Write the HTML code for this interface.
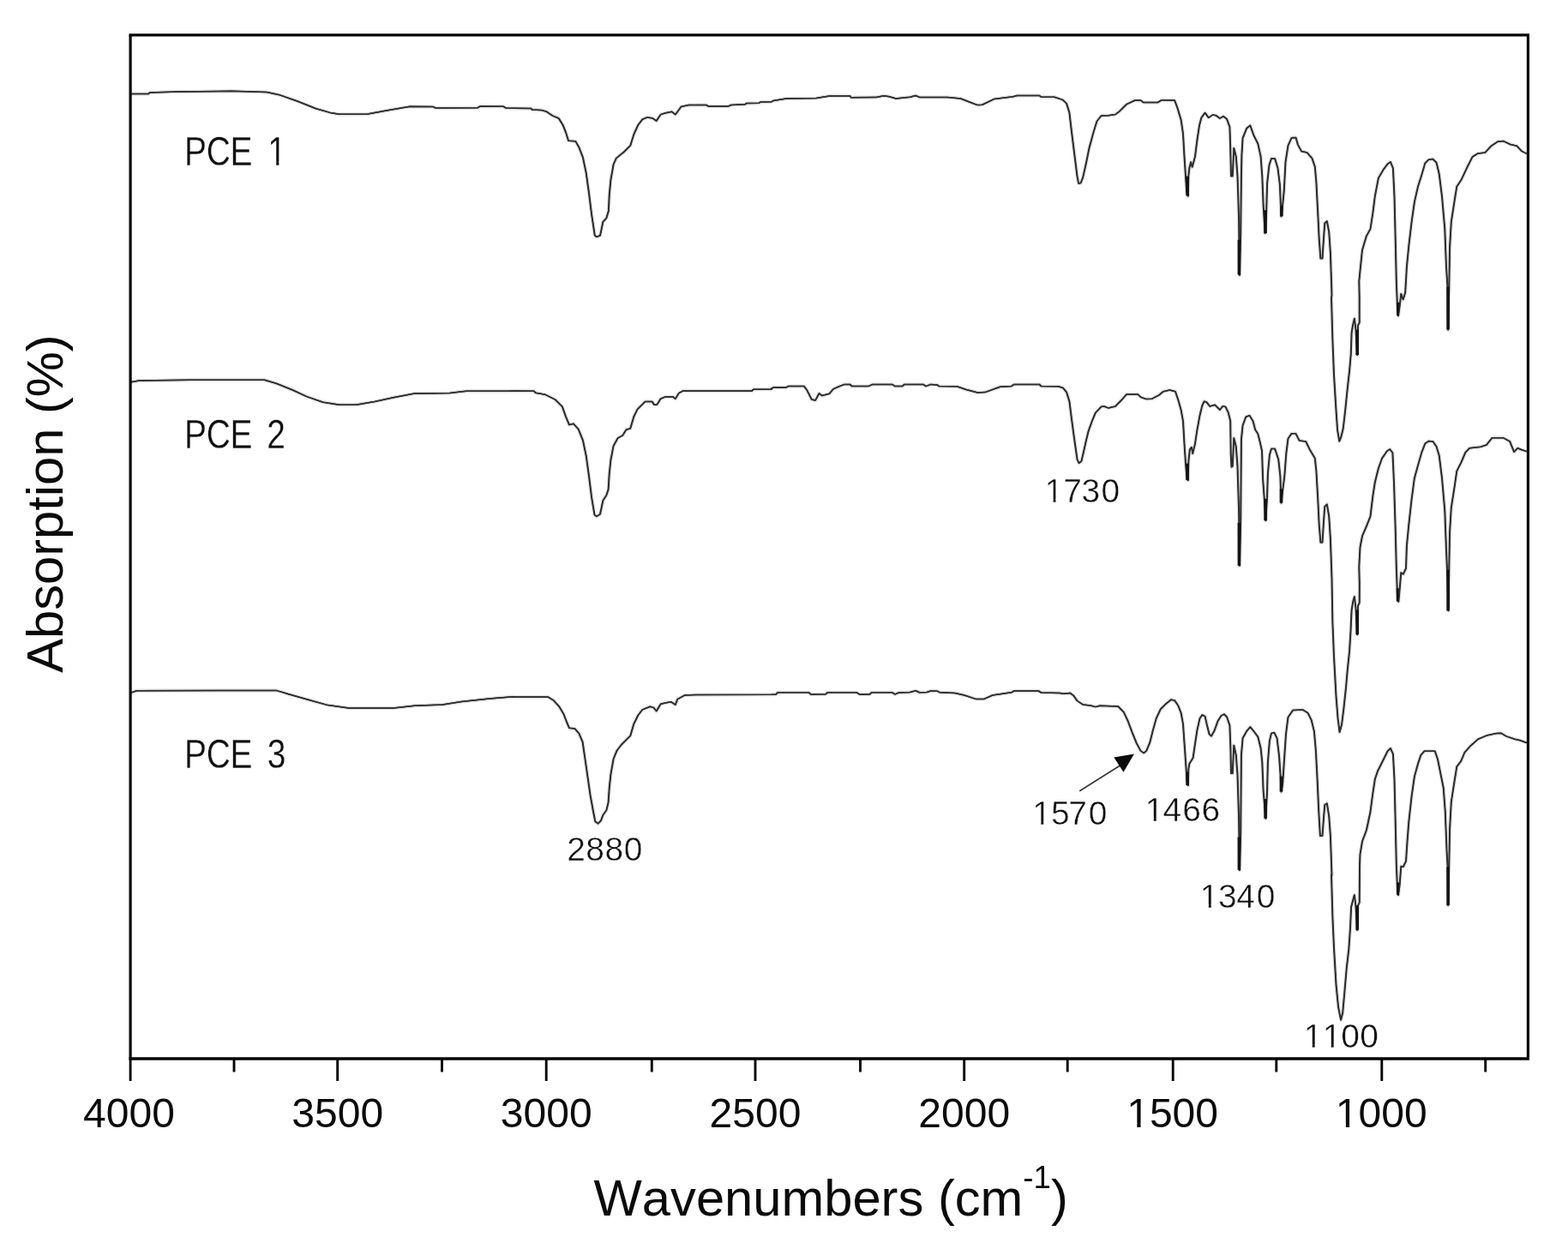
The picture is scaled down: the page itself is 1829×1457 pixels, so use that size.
<!DOCTYPE html>
<html lang="en"><head><meta charset="utf-8"><title>FTIR spectra</title>
<style>
html,body{margin:0;padding:0;background:#ffffff;}
body{width:1829px;height:1457px;overflow:hidden;}
svg{display:block;}
.ax{font-family:"Liberation Sans","DejaVu Sans",sans-serif;fill:#0a0a0a;}
.an{font-family:"Liberation Sans", "DejaVu Sans", sans-serif;fill:#101010;stroke:#ffffff;stroke-width:0.45px;stroke-linejoin:round;}
.pc{font-family:"Liberation Sans", "DejaVu Sans", sans-serif;fill:#101010;stroke:#ffffff;stroke-width:0.25px;stroke-linejoin:round;}
.hl{fill:none;stroke:#000000;stroke-opacity:0.12;stroke-width:4.4;stroke-linejoin:round;stroke-linecap:round;}
.cv{fill:none;stroke:#2c2c2c;stroke-width:1.5;stroke-linejoin:round;stroke-linecap:round;}
</style></head><body>
<svg width="1829" height="1457" viewBox="0 0 1829 1457">
<rect x="0" y="0" width="1829" height="1457" fill="#ffffff"/>
<g id="spectra" transform="translate(0,0.3)">
<polyline class="hl" points="152.7,109.3 173.2,109.3 174.6,107.6 207.4,106.8 270.3,106.0 311.3,107.3 325.0,110.1 346.8,117.7 368.7,126.5 385.1,131.1 396.0,133.0 428.8,132.8 450.7,128.7 478.0,124.0 505.4,124.3 508.1,125.7 557.3,125.4 560.1,123.7 587.4,124.0 590.1,125.7 600.0,125.9 619.7,126.3 620.5,127.7 631.2,128.1 637.7,130.0 644.3,134.6 651.7,137.7 656.6,145.6 659.9,153.8 663.1,164.0 671.4,164.5 675.5,171.9 679.9,183.3 683.7,201.4 686.9,224.3 690.2,250.6 693.8,274.4 696.0,276.0 700.1,274.4 703.3,258.8 707.4,253.9 709.9,245.7 710.7,227.6 712.4,209.6 715.6,191.5 718.9,184.2 727.9,176.8 735.3,169.4 739.4,156.3 744.3,145.6 749.3,139.0 755.0,136.6 760.7,137.4 765.7,140.7 770.6,133.3 775.5,131.7 783.7,130.0 787.8,133.3 794.4,124.3 803.4,122.3 823.9,122.2 826.4,123.8 849.3,123.8 852.6,122.2 869.0,121.5 870.6,120.2 885.4,119.9 887.0,118.7 900.0,118.4 901.9,117.3 917.2,114.7 952.2,114.2 967.5,111.6 991.5,111.6 992.6,113.4 1022.2,113.1 1030.9,111.4 1037.5,112.5 1045.1,114.7 1061.5,112.9 1068.1,111.2 1072.5,113.1 1105.3,113.1 1120.6,114.7 1131.5,119.0 1140.3,122.3 1145.7,121.9 1159.9,115.1 1181.8,112.5 1186.2,111.2 1212.4,111.2 1214.6,112.9 1229.9,112.9 1238.7,115.8 1240.0,116.4 1244.1,120.5 1247.4,131.2 1249.9,152.6 1253.2,179.0 1256.5,205.3 1258.1,213.6 1260.6,213.2 1263.1,207.0 1267.2,188.8 1270.5,172.4 1275.4,154.3 1279.5,141.1 1284.5,134.8 1292.7,134.5 1301.0,133.2 1305.9,129.5 1314.1,121.3 1324.0,116.7 1330.6,116.7 1333.9,119.3 1350.4,119.2 1355.3,116.4 1370.1,116.7 1373.4,125.4 1377.6,139.4 1380.0,155.9 1381.4,180.6 1383.0,205.3 1384.2,223.4 1385.8,228.4 1386.3,205.3 1387.4,195.4 1389.1,188.8 1390.7,194.6 1394.0,182.3 1396.5,162.5 1399.0,146.0 1401.4,137.0 1405.6,131.2 1409.7,137.0 1414.6,133.7 1418.7,134.5 1422.9,137.8 1427.0,135.3 1431.1,138.6 1434.4,147.7 1435.2,172.4 1436.0,205.3 1437.7,205.3 1439.3,172.4 1441.8,182.3 1443.5,205.3 1445.1,254.7 1445.9,320.6 1447.2,271.2 1447.9,205.3 1448.4,180.6 1449.6,160.8 1454.2,149.3 1458.3,146.0 1462.4,157.5 1467.3,167.4 1470.6,182.3 1472.3,205.3 1473.6,238.3 1475.6,272.0 1477.2,246.5 1478.1,213.6 1480.5,192.1 1483.0,184.7 1487.1,184.7 1490.4,195.4 1492.9,215.2 1494.5,252.3 1496.2,238.3 1497.8,221.8 1499.5,188.8 1502.5,169.5 1506.6,160.5 1511.5,160.1 1514.0,168.7 1518.1,176.1 1524.7,177.8 1530.5,184.4 1533.8,194.3 1535.4,212.4 1537.1,245.3 1538.7,278.3 1540.4,301.3 1542.5,301.3 1544.2,275.0 1545.3,260.1 1547.8,257.7 1550.2,270.0 1551.9,294.7 1553.5,344.2 1553.0,346.5 1554.4,395.9 1556.0,437.1 1558.5,478.3 1560.1,501.3 1562.3,514.5 1564.3,509.6 1566.7,499.7 1569.2,478.3 1571.7,453.6 1574.1,432.1 1575.8,412.4 1576.6,387.7 1578.3,377.8 1579.9,371.2 1581.5,384.4 1583.2,414.0 1584.0,379.4 1585.7,376.1 1585.7,346.5 1585.3,327.7 1587.3,307.9 1589.0,291.4 1593.9,275.0 1598.5,266.7 1601.3,248.6 1603.8,228.8 1607.9,207.4 1613.7,197.5 1618.6,191.0 1621.9,188.5 1624.9,195.9 1626.5,228.8 1627.7,278.3 1628.8,327.7 1630.1,360.6 1631.0,368.1 1632.6,357.3 1634.3,342.5 1636.7,349.1 1639.2,340.9 1640.9,311.2 1643.3,286.5 1646.6,258.5 1649.9,235.4 1654.0,217.3 1658.2,204.1 1662.3,190.1 1666.4,186.0 1671.3,185.2 1675.5,189.3 1678.7,202.5 1682.0,228.8 1685.3,266.7 1687.0,311.2 1688.6,335.9 1689.1,384.4 1690.3,334.3 1691.1,288.2 1692.8,258.5 1696.9,232.1 1699.3,217.3 1704.3,209.9 1710.9,195.9 1717.5,182.7 1724.1,178.6 1732.3,177.8 1738.9,170.4 1747.1,164.9 1753.7,164.3 1761.9,168.2 1769.4,170.0 1775.1,176.1 1780.1,178.6"/>
<polyline class="cv" transform="translate(-0.25,0)" points="152.7,109.3 173.2,109.3 174.6,107.6 207.4,106.8 270.3,106.0 311.3,107.3 325.0,110.1 346.8,117.7 368.7,126.5 385.1,131.1 396.0,133.0 428.8,132.8 450.7,128.7 478.0,124.0 505.4,124.3 508.1,125.7 557.3,125.4 560.1,123.7 587.4,124.0 590.1,125.7 600.0,125.9 619.7,126.3 620.5,127.7 631.2,128.1 637.7,130.0 644.3,134.6 651.7,137.7 656.6,145.6 659.9,153.8 663.1,164.0 671.4,164.5 675.5,171.9 679.9,183.3 683.7,201.4 686.9,224.3 690.2,250.6 693.8,274.4 696.0,276.0 700.1,274.4 703.3,258.8 707.4,253.9 709.9,245.7 710.7,227.6 712.4,209.6 715.6,191.5 718.9,184.2 727.9,176.8 735.3,169.4 739.4,156.3 744.3,145.6 749.3,139.0 755.0,136.6 760.7,137.4 765.7,140.7 770.6,133.3 775.5,131.7 783.7,130.0 787.8,133.3 794.4,124.3 803.4,122.3 823.9,122.2 826.4,123.8 849.3,123.8 852.6,122.2 869.0,121.5 870.6,120.2 885.4,119.9 887.0,118.7 900.0,118.4 901.9,117.3 917.2,114.7 952.2,114.2 967.5,111.6 991.5,111.6 992.6,113.4 1022.2,113.1 1030.9,111.4 1037.5,112.5 1045.1,114.7 1061.5,112.9 1068.1,111.2 1072.5,113.1 1105.3,113.1 1120.6,114.7 1131.5,119.0 1140.3,122.3 1145.7,121.9 1159.9,115.1 1181.8,112.5 1186.2,111.2 1212.4,111.2 1214.6,112.9 1229.9,112.9 1238.7,115.8 1240.0,116.4 1244.1,120.5 1247.4,131.2 1249.9,152.6 1253.2,179.0 1256.5,205.3 1258.1,213.6 1260.6,213.2 1263.1,207.0 1267.2,188.8 1270.5,172.4 1275.4,154.3 1279.5,141.1 1284.5,134.8 1292.7,134.5 1301.0,133.2 1305.9,129.5 1314.1,121.3 1324.0,116.7 1330.6,116.7 1333.9,119.3 1350.4,119.2 1355.3,116.4 1370.1,116.7 1373.4,125.4 1377.6,139.4 1380.0,155.9 1381.4,180.6 1383.0,205.3 1384.2,223.4 1385.8,228.4 1386.3,205.3 1387.4,195.4 1389.1,188.8 1390.7,194.6 1394.0,182.3 1396.5,162.5 1399.0,146.0 1401.4,137.0 1405.6,131.2 1409.7,137.0 1414.6,133.7 1418.7,134.5 1422.9,137.8 1427.0,135.3 1431.1,138.6 1434.4,147.7 1435.2,172.4 1436.0,205.3 1437.7,205.3 1439.3,172.4 1441.8,182.3 1443.5,205.3 1445.1,254.7 1445.9,320.6 1447.2,271.2 1447.9,205.3 1448.4,180.6 1449.6,160.8 1454.2,149.3 1458.3,146.0 1462.4,157.5 1467.3,167.4 1470.6,182.3 1472.3,205.3 1473.6,238.3 1475.6,272.0 1477.2,246.5 1478.1,213.6 1480.5,192.1 1483.0,184.7 1487.1,184.7 1490.4,195.4 1492.9,215.2 1494.5,252.3 1496.2,238.3 1497.8,221.8 1499.5,188.8 1502.5,169.5 1506.6,160.5 1511.5,160.1 1514.0,168.7 1518.1,176.1 1524.7,177.8 1530.5,184.4 1533.8,194.3 1535.4,212.4 1537.1,245.3 1538.7,278.3 1540.4,301.3 1542.5,301.3 1544.2,275.0 1545.3,260.1 1547.8,257.7 1550.2,270.0 1551.9,294.7 1553.5,344.2 1553.0,346.5 1554.4,395.9 1556.0,437.1 1558.5,478.3 1560.1,501.3 1562.3,514.5 1564.3,509.6 1566.7,499.7 1569.2,478.3 1571.7,453.6 1574.1,432.1 1575.8,412.4 1576.6,387.7 1578.3,377.8 1579.9,371.2 1581.5,384.4 1583.2,414.0 1584.0,379.4 1585.7,376.1 1585.7,346.5 1585.3,327.7 1587.3,307.9 1589.0,291.4 1593.9,275.0 1598.5,266.7 1601.3,248.6 1603.8,228.8 1607.9,207.4 1613.7,197.5 1618.6,191.0 1621.9,188.5 1624.9,195.9 1626.5,228.8 1627.7,278.3 1628.8,327.7 1630.1,360.6 1631.0,368.1 1632.6,357.3 1634.3,342.5 1636.7,349.1 1639.2,340.9 1640.9,311.2 1643.3,286.5 1646.6,258.5 1649.9,235.4 1654.0,217.3 1658.2,204.1 1662.3,190.1 1666.4,186.0 1671.3,185.2 1675.5,189.3 1678.7,202.5 1682.0,228.8 1685.3,266.7 1687.0,311.2 1688.6,335.9 1689.1,384.4 1690.3,334.3 1691.1,288.2 1692.8,258.5 1696.9,232.1 1699.3,217.3 1704.3,209.9 1710.9,195.9 1717.5,182.7 1724.1,178.6 1732.3,177.8 1738.9,170.4 1747.1,164.9 1753.7,164.3 1761.9,168.2 1769.4,170.0 1775.1,176.1 1780.1,178.6"/>
<polyline class="cv" transform="translate(0.25,0)" points="152.7,109.3 173.2,109.3 174.6,107.6 207.4,106.8 270.3,106.0 311.3,107.3 325.0,110.1 346.8,117.7 368.7,126.5 385.1,131.1 396.0,133.0 428.8,132.8 450.7,128.7 478.0,124.0 505.4,124.3 508.1,125.7 557.3,125.4 560.1,123.7 587.4,124.0 590.1,125.7 600.0,125.9 619.7,126.3 620.5,127.7 631.2,128.1 637.7,130.0 644.3,134.6 651.7,137.7 656.6,145.6 659.9,153.8 663.1,164.0 671.4,164.5 675.5,171.9 679.9,183.3 683.7,201.4 686.9,224.3 690.2,250.6 693.8,274.4 696.0,276.0 700.1,274.4 703.3,258.8 707.4,253.9 709.9,245.7 710.7,227.6 712.4,209.6 715.6,191.5 718.9,184.2 727.9,176.8 735.3,169.4 739.4,156.3 744.3,145.6 749.3,139.0 755.0,136.6 760.7,137.4 765.7,140.7 770.6,133.3 775.5,131.7 783.7,130.0 787.8,133.3 794.4,124.3 803.4,122.3 823.9,122.2 826.4,123.8 849.3,123.8 852.6,122.2 869.0,121.5 870.6,120.2 885.4,119.9 887.0,118.7 900.0,118.4 901.9,117.3 917.2,114.7 952.2,114.2 967.5,111.6 991.5,111.6 992.6,113.4 1022.2,113.1 1030.9,111.4 1037.5,112.5 1045.1,114.7 1061.5,112.9 1068.1,111.2 1072.5,113.1 1105.3,113.1 1120.6,114.7 1131.5,119.0 1140.3,122.3 1145.7,121.9 1159.9,115.1 1181.8,112.5 1186.2,111.2 1212.4,111.2 1214.6,112.9 1229.9,112.9 1238.7,115.8 1240.0,116.4 1244.1,120.5 1247.4,131.2 1249.9,152.6 1253.2,179.0 1256.5,205.3 1258.1,213.6 1260.6,213.2 1263.1,207.0 1267.2,188.8 1270.5,172.4 1275.4,154.3 1279.5,141.1 1284.5,134.8 1292.7,134.5 1301.0,133.2 1305.9,129.5 1314.1,121.3 1324.0,116.7 1330.6,116.7 1333.9,119.3 1350.4,119.2 1355.3,116.4 1370.1,116.7 1373.4,125.4 1377.6,139.4 1380.0,155.9 1381.4,180.6 1383.0,205.3 1384.2,223.4 1385.8,228.4 1386.3,205.3 1387.4,195.4 1389.1,188.8 1390.7,194.6 1394.0,182.3 1396.5,162.5 1399.0,146.0 1401.4,137.0 1405.6,131.2 1409.7,137.0 1414.6,133.7 1418.7,134.5 1422.9,137.8 1427.0,135.3 1431.1,138.6 1434.4,147.7 1435.2,172.4 1436.0,205.3 1437.7,205.3 1439.3,172.4 1441.8,182.3 1443.5,205.3 1445.1,254.7 1445.9,320.6 1447.2,271.2 1447.9,205.3 1448.4,180.6 1449.6,160.8 1454.2,149.3 1458.3,146.0 1462.4,157.5 1467.3,167.4 1470.6,182.3 1472.3,205.3 1473.6,238.3 1475.6,272.0 1477.2,246.5 1478.1,213.6 1480.5,192.1 1483.0,184.7 1487.1,184.7 1490.4,195.4 1492.9,215.2 1494.5,252.3 1496.2,238.3 1497.8,221.8 1499.5,188.8 1502.5,169.5 1506.6,160.5 1511.5,160.1 1514.0,168.7 1518.1,176.1 1524.7,177.8 1530.5,184.4 1533.8,194.3 1535.4,212.4 1537.1,245.3 1538.7,278.3 1540.4,301.3 1542.5,301.3 1544.2,275.0 1545.3,260.1 1547.8,257.7 1550.2,270.0 1551.9,294.7 1553.5,344.2 1553.0,346.5 1554.4,395.9 1556.0,437.1 1558.5,478.3 1560.1,501.3 1562.3,514.5 1564.3,509.6 1566.7,499.7 1569.2,478.3 1571.7,453.6 1574.1,432.1 1575.8,412.4 1576.6,387.7 1578.3,377.8 1579.9,371.2 1581.5,384.4 1583.2,414.0 1584.0,379.4 1585.7,376.1 1585.7,346.5 1585.3,327.7 1587.3,307.9 1589.0,291.4 1593.9,275.0 1598.5,266.7 1601.3,248.6 1603.8,228.8 1607.9,207.4 1613.7,197.5 1618.6,191.0 1621.9,188.5 1624.9,195.9 1626.5,228.8 1627.7,278.3 1628.8,327.7 1630.1,360.6 1631.0,368.1 1632.6,357.3 1634.3,342.5 1636.7,349.1 1639.2,340.9 1640.9,311.2 1643.3,286.5 1646.6,258.5 1649.9,235.4 1654.0,217.3 1658.2,204.1 1662.3,190.1 1666.4,186.0 1671.3,185.2 1675.5,189.3 1678.7,202.5 1682.0,228.8 1685.3,266.7 1687.0,311.2 1688.6,335.9 1689.1,384.4 1690.3,334.3 1691.1,288.2 1692.8,258.5 1696.9,232.1 1699.3,217.3 1704.3,209.9 1710.9,195.9 1717.5,182.7 1724.1,178.6 1732.3,177.8 1738.9,170.4 1747.1,164.9 1753.7,164.3 1761.9,168.2 1769.4,170.0 1775.1,176.1 1780.1,178.6"/>
<polyline class="hl" points="152.7,445.4 162.3,443.7 221.1,442.9 308.6,442.9 322.2,447.0 341.4,454.7 357.8,462.3 376.9,468.9 396.0,471.9 415.2,471.9 437.0,468.3 458.9,463.4 483.5,458.8 524.5,458.2 543.7,456.0 592.9,456.0 600.0,455.6 623.0,455.9 624.6,457.9 636.1,460.0 647.6,465.8 655.8,474.0 659.9,485.5 664.0,495.3 668.9,494.0 674.6,500.2 679.9,513.3 683.7,531.4 686.9,554.3 690.2,580.6 693.5,600.3 696.0,602.2 700.1,599.4 703.3,583.9 707.4,577.3 709.6,570.7 710.7,552.7 712.4,536.3 715.6,519.9 720.6,510.9 726.3,507.6 730.4,501.0 735.3,499.4 739.4,485.5 743.5,477.2 752.5,468.2 760.7,468.2 763.2,472.0 766.5,471.5 770.6,464.9 775.5,462.8 785.3,462.8 787.8,464.9 791.9,458.4 796.8,455.6 877.2,455.6 878.8,454.0 900.0,453.6 899.7,453.1 901.9,451.8 917.2,451.6 919.4,450.3 938.0,450.3 941.2,454.7 946.7,465.6 951.1,466.7 955.5,458.6 958.7,461.2 967.5,459.0 971.9,453.6 978.4,450.7 985.0,448.1 991.5,448.1 993.7,450.3 1013.4,450.1 1017.8,448.1 1040.7,448.1 1044.0,450.3 1052.8,450.1 1055.0,448.1 1076.8,448.1 1080.1,450.3 1085.6,448.1 1093.2,448.6 1095.4,450.3 1116.2,450.5 1127.1,454.2 1140.3,457.7 1149.0,457.3 1166.5,451.0 1179.6,450.3 1182.9,448.1 1212.4,448.1 1214.6,450.3 1234.3,450.5 1240.0,452.2 1244.1,457.2 1247.4,467.9 1249.9,487.7 1253.2,512.4 1256.5,535.4 1258.5,540.0 1261.4,537.9 1263.9,527.2 1267.2,512.4 1269.7,502.5 1273.8,491.0 1277.9,481.1 1284.5,474.2 1287.8,473.7 1292.7,475.6 1301.0,473.7 1307.5,467.1 1314.1,459.7 1327.3,459.7 1330.6,462.9 1336.4,465.1 1343.8,464.9 1352.0,460.5 1357.0,456.4 1364.4,454.7 1371.0,456.4 1374.3,466.2 1377.6,477.8 1380.0,491.0 1381.4,515.7 1383.0,540.4 1384.6,558.5 1385.8,560.1 1386.3,538.7 1387.9,523.9 1389.9,521.4 1391.2,528.8 1394.0,517.3 1396.5,500.8 1399.5,484.4 1402.3,472.8 1404.7,467.9 1407.2,468.7 1411.3,473.7 1417.1,472.0 1422.9,477.8 1426.2,473.7 1429.5,474.2 1432.8,481.1 1435.2,491.0 1435.7,528.8 1436.5,544.5 1437.7,543.7 1439.3,510.7 1441.8,520.6 1443.5,543.7 1445.1,594.7 1445.9,659.8 1447.2,607.9 1447.9,512.4 1449.6,495.9 1453.3,486.0 1457.5,484.4 1461.6,491.0 1464.1,500.8 1467.3,505.8 1469.8,515.7 1472.0,525.6 1473.1,558.5 1474.8,581.6 1476.4,607.1 1478.1,578.3 1478.9,551.9 1480.9,530.5 1483.0,523.1 1487.1,523.1 1491.2,535.4 1493.4,555.2 1494.5,586.5 1496.2,571.7 1498.3,555.2 1500.3,528.8 1502.5,511.3 1506.6,505.5 1511.5,505.5 1515.7,513.8 1523.1,514.6 1528.0,524.5 1533.8,534.4 1535.4,549.2 1537.1,578.8 1538.7,611.8 1540.4,632.4 1542.5,632.4 1544.2,605.2 1545.3,590.4 1547.8,587.9 1550.2,601.9 1551.9,628.3 1553.5,674.4 1554.4,726.1 1556.0,765.7 1558.5,811.8 1560.6,838.2 1562.6,853.8 1565.1,844.7 1567.5,825.0 1570.0,801.9 1571.7,782.1 1574.1,759.1 1575.5,736.0 1576.6,711.3 1578.3,701.4 1579.9,695.7 1581.5,709.7 1583.2,740.1 1584.0,706.4 1585.7,703.1 1585.8,680.0 1585.3,661.2 1586.5,638.2 1589.0,625.0 1594.7,611.8 1598.5,601.9 1601.3,578.8 1603.8,562.4 1607.9,545.9 1612.0,534.4 1617.8,526.1 1621.1,523.7 1624.4,527.8 1626.0,562.4 1627.7,616.7 1628.8,661.2 1630.1,697.5 1631.3,701.6 1632.6,687.6 1634.3,667.8 1636.7,669.5 1640.0,662.9 1640.9,636.5 1643.3,611.8 1646.6,582.1 1649.9,557.4 1654.0,542.6 1658.2,527.8 1662.3,517.1 1666.4,514.3 1671.3,514.6 1675.5,520.4 1678.7,531.1 1682.0,557.4 1685.3,595.3 1687.0,641.4 1688.6,677.7 1689.5,712.3 1690.3,661.2 1691.1,620.0 1692.8,592.0 1696.9,565.7 1699.3,549.2 1704.3,539.3 1709.2,527.8 1714.2,522.5 1727.3,520.9 1733.9,518.7 1740.5,510.5 1753.7,510.5 1761.1,514.6 1766.1,527.0 1770.2,522.5 1775.1,524.5 1780.1,526.1"/>
<polyline class="cv" transform="translate(-0.25,0)" points="152.7,445.4 162.3,443.7 221.1,442.9 308.6,442.9 322.2,447.0 341.4,454.7 357.8,462.3 376.9,468.9 396.0,471.9 415.2,471.9 437.0,468.3 458.9,463.4 483.5,458.8 524.5,458.2 543.7,456.0 592.9,456.0 600.0,455.6 623.0,455.9 624.6,457.9 636.1,460.0 647.6,465.8 655.8,474.0 659.9,485.5 664.0,495.3 668.9,494.0 674.6,500.2 679.9,513.3 683.7,531.4 686.9,554.3 690.2,580.6 693.5,600.3 696.0,602.2 700.1,599.4 703.3,583.9 707.4,577.3 709.6,570.7 710.7,552.7 712.4,536.3 715.6,519.9 720.6,510.9 726.3,507.6 730.4,501.0 735.3,499.4 739.4,485.5 743.5,477.2 752.5,468.2 760.7,468.2 763.2,472.0 766.5,471.5 770.6,464.9 775.5,462.8 785.3,462.8 787.8,464.9 791.9,458.4 796.8,455.6 877.2,455.6 878.8,454.0 900.0,453.6 899.7,453.1 901.9,451.8 917.2,451.6 919.4,450.3 938.0,450.3 941.2,454.7 946.7,465.6 951.1,466.7 955.5,458.6 958.7,461.2 967.5,459.0 971.9,453.6 978.4,450.7 985.0,448.1 991.5,448.1 993.7,450.3 1013.4,450.1 1017.8,448.1 1040.7,448.1 1044.0,450.3 1052.8,450.1 1055.0,448.1 1076.8,448.1 1080.1,450.3 1085.6,448.1 1093.2,448.6 1095.4,450.3 1116.2,450.5 1127.1,454.2 1140.3,457.7 1149.0,457.3 1166.5,451.0 1179.6,450.3 1182.9,448.1 1212.4,448.1 1214.6,450.3 1234.3,450.5 1240.0,452.2 1244.1,457.2 1247.4,467.9 1249.9,487.7 1253.2,512.4 1256.5,535.4 1258.5,540.0 1261.4,537.9 1263.9,527.2 1267.2,512.4 1269.7,502.5 1273.8,491.0 1277.9,481.1 1284.5,474.2 1287.8,473.7 1292.7,475.6 1301.0,473.7 1307.5,467.1 1314.1,459.7 1327.3,459.7 1330.6,462.9 1336.4,465.1 1343.8,464.9 1352.0,460.5 1357.0,456.4 1364.4,454.7 1371.0,456.4 1374.3,466.2 1377.6,477.8 1380.0,491.0 1381.4,515.7 1383.0,540.4 1384.6,558.5 1385.8,560.1 1386.3,538.7 1387.9,523.9 1389.9,521.4 1391.2,528.8 1394.0,517.3 1396.5,500.8 1399.5,484.4 1402.3,472.8 1404.7,467.9 1407.2,468.7 1411.3,473.7 1417.1,472.0 1422.9,477.8 1426.2,473.7 1429.5,474.2 1432.8,481.1 1435.2,491.0 1435.7,528.8 1436.5,544.5 1437.7,543.7 1439.3,510.7 1441.8,520.6 1443.5,543.7 1445.1,594.7 1445.9,659.8 1447.2,607.9 1447.9,512.4 1449.6,495.9 1453.3,486.0 1457.5,484.4 1461.6,491.0 1464.1,500.8 1467.3,505.8 1469.8,515.7 1472.0,525.6 1473.1,558.5 1474.8,581.6 1476.4,607.1 1478.1,578.3 1478.9,551.9 1480.9,530.5 1483.0,523.1 1487.1,523.1 1491.2,535.4 1493.4,555.2 1494.5,586.5 1496.2,571.7 1498.3,555.2 1500.3,528.8 1502.5,511.3 1506.6,505.5 1511.5,505.5 1515.7,513.8 1523.1,514.6 1528.0,524.5 1533.8,534.4 1535.4,549.2 1537.1,578.8 1538.7,611.8 1540.4,632.4 1542.5,632.4 1544.2,605.2 1545.3,590.4 1547.8,587.9 1550.2,601.9 1551.9,628.3 1553.5,674.4 1554.4,726.1 1556.0,765.7 1558.5,811.8 1560.6,838.2 1562.6,853.8 1565.1,844.7 1567.5,825.0 1570.0,801.9 1571.7,782.1 1574.1,759.1 1575.5,736.0 1576.6,711.3 1578.3,701.4 1579.9,695.7 1581.5,709.7 1583.2,740.1 1584.0,706.4 1585.7,703.1 1585.8,680.0 1585.3,661.2 1586.5,638.2 1589.0,625.0 1594.7,611.8 1598.5,601.9 1601.3,578.8 1603.8,562.4 1607.9,545.9 1612.0,534.4 1617.8,526.1 1621.1,523.7 1624.4,527.8 1626.0,562.4 1627.7,616.7 1628.8,661.2 1630.1,697.5 1631.3,701.6 1632.6,687.6 1634.3,667.8 1636.7,669.5 1640.0,662.9 1640.9,636.5 1643.3,611.8 1646.6,582.1 1649.9,557.4 1654.0,542.6 1658.2,527.8 1662.3,517.1 1666.4,514.3 1671.3,514.6 1675.5,520.4 1678.7,531.1 1682.0,557.4 1685.3,595.3 1687.0,641.4 1688.6,677.7 1689.5,712.3 1690.3,661.2 1691.1,620.0 1692.8,592.0 1696.9,565.7 1699.3,549.2 1704.3,539.3 1709.2,527.8 1714.2,522.5 1727.3,520.9 1733.9,518.7 1740.5,510.5 1753.7,510.5 1761.1,514.6 1766.1,527.0 1770.2,522.5 1775.1,524.5 1780.1,526.1"/>
<polyline class="cv" transform="translate(0.25,0)" points="152.7,445.4 162.3,443.7 221.1,442.9 308.6,442.9 322.2,447.0 341.4,454.7 357.8,462.3 376.9,468.9 396.0,471.9 415.2,471.9 437.0,468.3 458.9,463.4 483.5,458.8 524.5,458.2 543.7,456.0 592.9,456.0 600.0,455.6 623.0,455.9 624.6,457.9 636.1,460.0 647.6,465.8 655.8,474.0 659.9,485.5 664.0,495.3 668.9,494.0 674.6,500.2 679.9,513.3 683.7,531.4 686.9,554.3 690.2,580.6 693.5,600.3 696.0,602.2 700.1,599.4 703.3,583.9 707.4,577.3 709.6,570.7 710.7,552.7 712.4,536.3 715.6,519.9 720.6,510.9 726.3,507.6 730.4,501.0 735.3,499.4 739.4,485.5 743.5,477.2 752.5,468.2 760.7,468.2 763.2,472.0 766.5,471.5 770.6,464.9 775.5,462.8 785.3,462.8 787.8,464.9 791.9,458.4 796.8,455.6 877.2,455.6 878.8,454.0 900.0,453.6 899.7,453.1 901.9,451.8 917.2,451.6 919.4,450.3 938.0,450.3 941.2,454.7 946.7,465.6 951.1,466.7 955.5,458.6 958.7,461.2 967.5,459.0 971.9,453.6 978.4,450.7 985.0,448.1 991.5,448.1 993.7,450.3 1013.4,450.1 1017.8,448.1 1040.7,448.1 1044.0,450.3 1052.8,450.1 1055.0,448.1 1076.8,448.1 1080.1,450.3 1085.6,448.1 1093.2,448.6 1095.4,450.3 1116.2,450.5 1127.1,454.2 1140.3,457.7 1149.0,457.3 1166.5,451.0 1179.6,450.3 1182.9,448.1 1212.4,448.1 1214.6,450.3 1234.3,450.5 1240.0,452.2 1244.1,457.2 1247.4,467.9 1249.9,487.7 1253.2,512.4 1256.5,535.4 1258.5,540.0 1261.4,537.9 1263.9,527.2 1267.2,512.4 1269.7,502.5 1273.8,491.0 1277.9,481.1 1284.5,474.2 1287.8,473.7 1292.7,475.6 1301.0,473.7 1307.5,467.1 1314.1,459.7 1327.3,459.7 1330.6,462.9 1336.4,465.1 1343.8,464.9 1352.0,460.5 1357.0,456.4 1364.4,454.7 1371.0,456.4 1374.3,466.2 1377.6,477.8 1380.0,491.0 1381.4,515.7 1383.0,540.4 1384.6,558.5 1385.8,560.1 1386.3,538.7 1387.9,523.9 1389.9,521.4 1391.2,528.8 1394.0,517.3 1396.5,500.8 1399.5,484.4 1402.3,472.8 1404.7,467.9 1407.2,468.7 1411.3,473.7 1417.1,472.0 1422.9,477.8 1426.2,473.7 1429.5,474.2 1432.8,481.1 1435.2,491.0 1435.7,528.8 1436.5,544.5 1437.7,543.7 1439.3,510.7 1441.8,520.6 1443.5,543.7 1445.1,594.7 1445.9,659.8 1447.2,607.9 1447.9,512.4 1449.6,495.9 1453.3,486.0 1457.5,484.4 1461.6,491.0 1464.1,500.8 1467.3,505.8 1469.8,515.7 1472.0,525.6 1473.1,558.5 1474.8,581.6 1476.4,607.1 1478.1,578.3 1478.9,551.9 1480.9,530.5 1483.0,523.1 1487.1,523.1 1491.2,535.4 1493.4,555.2 1494.5,586.5 1496.2,571.7 1498.3,555.2 1500.3,528.8 1502.5,511.3 1506.6,505.5 1511.5,505.5 1515.7,513.8 1523.1,514.6 1528.0,524.5 1533.8,534.4 1535.4,549.2 1537.1,578.8 1538.7,611.8 1540.4,632.4 1542.5,632.4 1544.2,605.2 1545.3,590.4 1547.8,587.9 1550.2,601.9 1551.9,628.3 1553.5,674.4 1554.4,726.1 1556.0,765.7 1558.5,811.8 1560.6,838.2 1562.6,853.8 1565.1,844.7 1567.5,825.0 1570.0,801.9 1571.7,782.1 1574.1,759.1 1575.5,736.0 1576.6,711.3 1578.3,701.4 1579.9,695.7 1581.5,709.7 1583.2,740.1 1584.0,706.4 1585.7,703.1 1585.8,680.0 1585.3,661.2 1586.5,638.2 1589.0,625.0 1594.7,611.8 1598.5,601.9 1601.3,578.8 1603.8,562.4 1607.9,545.9 1612.0,534.4 1617.8,526.1 1621.1,523.7 1624.4,527.8 1626.0,562.4 1627.7,616.7 1628.8,661.2 1630.1,697.5 1631.3,701.6 1632.6,687.6 1634.3,667.8 1636.7,669.5 1640.0,662.9 1640.9,636.5 1643.3,611.8 1646.6,582.1 1649.9,557.4 1654.0,542.6 1658.2,527.8 1662.3,517.1 1666.4,514.3 1671.3,514.6 1675.5,520.4 1678.7,531.1 1682.0,557.4 1685.3,595.3 1687.0,641.4 1688.6,677.7 1689.5,712.3 1690.3,661.2 1691.1,620.0 1692.8,592.0 1696.9,565.7 1699.3,549.2 1704.3,539.3 1709.2,527.8 1714.2,522.5 1727.3,520.9 1733.9,518.7 1740.5,510.5 1753.7,510.5 1761.1,514.6 1766.1,527.0 1770.2,522.5 1775.1,524.5 1780.1,526.1"/>
<polyline class="hl" points="152.7,807.8 159.6,805.4 322.2,805.1 335.9,809.2 357.8,815.5 382.4,822.3 407.0,825.6 458.9,825.6 483.5,822.9 516.3,821.8 538.2,818.2 571.0,814.7 598.3,812.5 600.0,812.8 639.4,812.8 645.9,816.9 652.5,824.3 657.4,832.5 661.5,843.1 664.0,848.9 670.5,849.7 675.5,855.5 679.6,865.3 682.0,881.7 685.3,904.7 688.6,927.6 691.9,945.7 694.3,958.0 697.6,960.4 700.9,957.1 703.3,950.6 707.4,944.8 709.6,935.8 710.7,919.4 712.4,903.0 715.6,885.0 719.7,875.1 724.7,868.6 735.3,857.9 739.4,844.0 744.3,834.1 749.3,827.6 758.3,824.0 762.4,825.1 765.7,829.2 770.6,821.0 777.1,819.4 782.9,818.5 787.8,821.8 790.3,815.3 798.5,810.8 811.6,810.3 900.0,809.9 905.2,809.6 907.3,807.5 943.4,807.5 945.6,809.6 963.1,809.4 965.3,807.5 999.2,807.5 1002.5,809.6 1014.5,809.6 1016.7,807.5 1040.7,807.5 1044.0,809.6 1048.4,807.7 1061.5,807.2 1068.1,805.5 1072.5,807.5 1081.2,807.2 1085.6,805.7 1093.2,805.9 1096.5,807.5 1114.0,808.1 1124.9,810.7 1138.1,815.1 1147.9,815.1 1157.7,810.7 1179.6,807.5 1182.9,805.7 1211.3,805.7 1214.6,807.7 1236.5,808.1 1240.0,808.9 1248.2,808.1 1252.4,811.4 1256.5,817.2 1263.1,821.6 1272.9,822.9 1277.9,824.3 1282.8,822.9 1304.3,823.8 1310.8,830.4 1315.8,841.1 1320.7,854.3 1325.7,866.6 1330.6,875.7 1334.2,878.1 1337.2,875.7 1341.3,865.8 1344.6,852.6 1348.7,837.8 1353.7,827.1 1360.3,820.5 1366.0,815.9 1370.1,816.7 1374.3,822.9 1377.6,831.2 1380.0,844.4 1381.7,869.1 1383.3,892.1 1384.6,911.9 1385.8,916.0 1386.3,897.1 1387.4,890.5 1391.6,883.9 1394.0,867.4 1396.5,851.0 1399.5,837.8 1402.3,833.7 1405.6,835.3 1408.0,846.0 1410.5,855.9 1413.0,858.4 1416.3,852.6 1420.4,841.1 1424.5,834.5 1427.8,832.8 1431.1,836.1 1434.4,846.0 1435.4,872.4 1436.0,902.0 1437.7,902.0 1439.3,869.1 1441.8,880.6 1443.5,903.7 1445.1,954.7 1445.9,1014.9 1447.2,971.2 1447.9,880.6 1449.6,860.8 1454.2,852.6 1458.3,847.7 1462.4,852.6 1467.3,859.2 1470.6,872.4 1472.3,888.8 1473.6,921.8 1476.4,954.7 1478.1,921.8 1478.9,888.8 1480.9,864.1 1483.0,855.1 1486.3,854.3 1489.6,860.8 1492.1,882.3 1493.7,905.3 1494.5,923.4 1496.2,913.6 1497.8,888.8 1500.0,855.9 1502.5,836.4 1508.2,828.1 1519.8,827.8 1525.5,831.4 1529.7,839.7 1532.9,852.8 1534.9,875.9 1536.6,908.8 1538.2,945.1 1539.9,974.7 1542.5,974.7 1544.2,951.7 1545.3,938.5 1547.8,936.9 1550.2,951.7 1551.9,974.7 1553.5,1020.9 1553.0,1019.8 1554.4,1069.2 1556.0,1105.4 1558.5,1148.3 1561.1,1174.6 1564.1,1189.5 1566.2,1181.2 1568.4,1156.5 1570.8,1128.5 1573.3,1107.1 1575.0,1082.4 1576.1,1057.7 1578.3,1049.4 1579.9,1043.7 1581.5,1057.7 1583.2,1084.8 1584.0,1056.0 1585.7,1052.7 1586.0,1009.9 1586.5,996.2 1589.0,981.3 1593.9,968.2 1598.5,946.7 1601.3,925.3 1603.8,908.8 1607.1,899.0 1613.7,885.8 1618.6,875.9 1621.9,872.6 1624.9,879.2 1626.5,908.8 1627.7,958.3 1628.8,1007.7 1630.1,1039.0 1631.0,1043.9 1632.6,1032.4 1634.3,1010.2 1636.7,1011.0 1640.0,1004.4 1641.4,983.0 1643.3,958.3 1646.6,928.6 1649.9,905.6 1654.0,890.7 1657.3,880.8 1661.4,875.9 1673.8,875.9 1677.1,885.8 1680.4,902.3 1683.7,918.7 1685.8,946.7 1687.5,991.2 1688.6,1011.0 1689.1,1056.0 1690.3,1007.7 1691.1,966.5 1692.8,935.2 1696.9,908.8 1699.3,894.0 1704.3,887.4 1708.4,877.5 1715.8,869.3 1724.1,861.9 1733.9,857.8 1745.5,855.3 1751.2,855.0 1757.0,858.6 1766.9,861.9 1773.5,863.5 1780.1,866.0"/>
<polyline class="cv" transform="translate(-0.25,0)" points="152.7,807.8 159.6,805.4 322.2,805.1 335.9,809.2 357.8,815.5 382.4,822.3 407.0,825.6 458.9,825.6 483.5,822.9 516.3,821.8 538.2,818.2 571.0,814.7 598.3,812.5 600.0,812.8 639.4,812.8 645.9,816.9 652.5,824.3 657.4,832.5 661.5,843.1 664.0,848.9 670.5,849.7 675.5,855.5 679.6,865.3 682.0,881.7 685.3,904.7 688.6,927.6 691.9,945.7 694.3,958.0 697.6,960.4 700.9,957.1 703.3,950.6 707.4,944.8 709.6,935.8 710.7,919.4 712.4,903.0 715.6,885.0 719.7,875.1 724.7,868.6 735.3,857.9 739.4,844.0 744.3,834.1 749.3,827.6 758.3,824.0 762.4,825.1 765.7,829.2 770.6,821.0 777.1,819.4 782.9,818.5 787.8,821.8 790.3,815.3 798.5,810.8 811.6,810.3 900.0,809.9 905.2,809.6 907.3,807.5 943.4,807.5 945.6,809.6 963.1,809.4 965.3,807.5 999.2,807.5 1002.5,809.6 1014.5,809.6 1016.7,807.5 1040.7,807.5 1044.0,809.6 1048.4,807.7 1061.5,807.2 1068.1,805.5 1072.5,807.5 1081.2,807.2 1085.6,805.7 1093.2,805.9 1096.5,807.5 1114.0,808.1 1124.9,810.7 1138.1,815.1 1147.9,815.1 1157.7,810.7 1179.6,807.5 1182.9,805.7 1211.3,805.7 1214.6,807.7 1236.5,808.1 1240.0,808.9 1248.2,808.1 1252.4,811.4 1256.5,817.2 1263.1,821.6 1272.9,822.9 1277.9,824.3 1282.8,822.9 1304.3,823.8 1310.8,830.4 1315.8,841.1 1320.7,854.3 1325.7,866.6 1330.6,875.7 1334.2,878.1 1337.2,875.7 1341.3,865.8 1344.6,852.6 1348.7,837.8 1353.7,827.1 1360.3,820.5 1366.0,815.9 1370.1,816.7 1374.3,822.9 1377.6,831.2 1380.0,844.4 1381.7,869.1 1383.3,892.1 1384.6,911.9 1385.8,916.0 1386.3,897.1 1387.4,890.5 1391.6,883.9 1394.0,867.4 1396.5,851.0 1399.5,837.8 1402.3,833.7 1405.6,835.3 1408.0,846.0 1410.5,855.9 1413.0,858.4 1416.3,852.6 1420.4,841.1 1424.5,834.5 1427.8,832.8 1431.1,836.1 1434.4,846.0 1435.4,872.4 1436.0,902.0 1437.7,902.0 1439.3,869.1 1441.8,880.6 1443.5,903.7 1445.1,954.7 1445.9,1014.9 1447.2,971.2 1447.9,880.6 1449.6,860.8 1454.2,852.6 1458.3,847.7 1462.4,852.6 1467.3,859.2 1470.6,872.4 1472.3,888.8 1473.6,921.8 1476.4,954.7 1478.1,921.8 1478.9,888.8 1480.9,864.1 1483.0,855.1 1486.3,854.3 1489.6,860.8 1492.1,882.3 1493.7,905.3 1494.5,923.4 1496.2,913.6 1497.8,888.8 1500.0,855.9 1502.5,836.4 1508.2,828.1 1519.8,827.8 1525.5,831.4 1529.7,839.7 1532.9,852.8 1534.9,875.9 1536.6,908.8 1538.2,945.1 1539.9,974.7 1542.5,974.7 1544.2,951.7 1545.3,938.5 1547.8,936.9 1550.2,951.7 1551.9,974.7 1553.5,1020.9 1553.0,1019.8 1554.4,1069.2 1556.0,1105.4 1558.5,1148.3 1561.1,1174.6 1564.1,1189.5 1566.2,1181.2 1568.4,1156.5 1570.8,1128.5 1573.3,1107.1 1575.0,1082.4 1576.1,1057.7 1578.3,1049.4 1579.9,1043.7 1581.5,1057.7 1583.2,1084.8 1584.0,1056.0 1585.7,1052.7 1586.0,1009.9 1586.5,996.2 1589.0,981.3 1593.9,968.2 1598.5,946.7 1601.3,925.3 1603.8,908.8 1607.1,899.0 1613.7,885.8 1618.6,875.9 1621.9,872.6 1624.9,879.2 1626.5,908.8 1627.7,958.3 1628.8,1007.7 1630.1,1039.0 1631.0,1043.9 1632.6,1032.4 1634.3,1010.2 1636.7,1011.0 1640.0,1004.4 1641.4,983.0 1643.3,958.3 1646.6,928.6 1649.9,905.6 1654.0,890.7 1657.3,880.8 1661.4,875.9 1673.8,875.9 1677.1,885.8 1680.4,902.3 1683.7,918.7 1685.8,946.7 1687.5,991.2 1688.6,1011.0 1689.1,1056.0 1690.3,1007.7 1691.1,966.5 1692.8,935.2 1696.9,908.8 1699.3,894.0 1704.3,887.4 1708.4,877.5 1715.8,869.3 1724.1,861.9 1733.9,857.8 1745.5,855.3 1751.2,855.0 1757.0,858.6 1766.9,861.9 1773.5,863.5 1780.1,866.0"/>
<polyline class="cv" transform="translate(0.25,0)" points="152.7,807.8 159.6,805.4 322.2,805.1 335.9,809.2 357.8,815.5 382.4,822.3 407.0,825.6 458.9,825.6 483.5,822.9 516.3,821.8 538.2,818.2 571.0,814.7 598.3,812.5 600.0,812.8 639.4,812.8 645.9,816.9 652.5,824.3 657.4,832.5 661.5,843.1 664.0,848.9 670.5,849.7 675.5,855.5 679.6,865.3 682.0,881.7 685.3,904.7 688.6,927.6 691.9,945.7 694.3,958.0 697.6,960.4 700.9,957.1 703.3,950.6 707.4,944.8 709.6,935.8 710.7,919.4 712.4,903.0 715.6,885.0 719.7,875.1 724.7,868.6 735.3,857.9 739.4,844.0 744.3,834.1 749.3,827.6 758.3,824.0 762.4,825.1 765.7,829.2 770.6,821.0 777.1,819.4 782.9,818.5 787.8,821.8 790.3,815.3 798.5,810.8 811.6,810.3 900.0,809.9 905.2,809.6 907.3,807.5 943.4,807.5 945.6,809.6 963.1,809.4 965.3,807.5 999.2,807.5 1002.5,809.6 1014.5,809.6 1016.7,807.5 1040.7,807.5 1044.0,809.6 1048.4,807.7 1061.5,807.2 1068.1,805.5 1072.5,807.5 1081.2,807.2 1085.6,805.7 1093.2,805.9 1096.5,807.5 1114.0,808.1 1124.9,810.7 1138.1,815.1 1147.9,815.1 1157.7,810.7 1179.6,807.5 1182.9,805.7 1211.3,805.7 1214.6,807.7 1236.5,808.1 1240.0,808.9 1248.2,808.1 1252.4,811.4 1256.5,817.2 1263.1,821.6 1272.9,822.9 1277.9,824.3 1282.8,822.9 1304.3,823.8 1310.8,830.4 1315.8,841.1 1320.7,854.3 1325.7,866.6 1330.6,875.7 1334.2,878.1 1337.2,875.7 1341.3,865.8 1344.6,852.6 1348.7,837.8 1353.7,827.1 1360.3,820.5 1366.0,815.9 1370.1,816.7 1374.3,822.9 1377.6,831.2 1380.0,844.4 1381.7,869.1 1383.3,892.1 1384.6,911.9 1385.8,916.0 1386.3,897.1 1387.4,890.5 1391.6,883.9 1394.0,867.4 1396.5,851.0 1399.5,837.8 1402.3,833.7 1405.6,835.3 1408.0,846.0 1410.5,855.9 1413.0,858.4 1416.3,852.6 1420.4,841.1 1424.5,834.5 1427.8,832.8 1431.1,836.1 1434.4,846.0 1435.4,872.4 1436.0,902.0 1437.7,902.0 1439.3,869.1 1441.8,880.6 1443.5,903.7 1445.1,954.7 1445.9,1014.9 1447.2,971.2 1447.9,880.6 1449.6,860.8 1454.2,852.6 1458.3,847.7 1462.4,852.6 1467.3,859.2 1470.6,872.4 1472.3,888.8 1473.6,921.8 1476.4,954.7 1478.1,921.8 1478.9,888.8 1480.9,864.1 1483.0,855.1 1486.3,854.3 1489.6,860.8 1492.1,882.3 1493.7,905.3 1494.5,923.4 1496.2,913.6 1497.8,888.8 1500.0,855.9 1502.5,836.4 1508.2,828.1 1519.8,827.8 1525.5,831.4 1529.7,839.7 1532.9,852.8 1534.9,875.9 1536.6,908.8 1538.2,945.1 1539.9,974.7 1542.5,974.7 1544.2,951.7 1545.3,938.5 1547.8,936.9 1550.2,951.7 1551.9,974.7 1553.5,1020.9 1553.0,1019.8 1554.4,1069.2 1556.0,1105.4 1558.5,1148.3 1561.1,1174.6 1564.1,1189.5 1566.2,1181.2 1568.4,1156.5 1570.8,1128.5 1573.3,1107.1 1575.0,1082.4 1576.1,1057.7 1578.3,1049.4 1579.9,1043.7 1581.5,1057.7 1583.2,1084.8 1584.0,1056.0 1585.7,1052.7 1586.0,1009.9 1586.5,996.2 1589.0,981.3 1593.9,968.2 1598.5,946.7 1601.3,925.3 1603.8,908.8 1607.1,899.0 1613.7,885.8 1618.6,875.9 1621.9,872.6 1624.9,879.2 1626.5,908.8 1627.7,958.3 1628.8,1007.7 1630.1,1039.0 1631.0,1043.9 1632.6,1032.4 1634.3,1010.2 1636.7,1011.0 1640.0,1004.4 1641.4,983.0 1643.3,958.3 1646.6,928.6 1649.9,905.6 1654.0,890.7 1657.3,880.8 1661.4,875.9 1673.8,875.9 1677.1,885.8 1680.4,902.3 1683.7,918.7 1685.8,946.7 1687.5,991.2 1688.6,1011.0 1689.1,1056.0 1690.3,1007.7 1691.1,966.5 1692.8,935.2 1696.9,908.8 1699.3,894.0 1704.3,887.4 1708.4,877.5 1715.8,869.3 1724.1,861.9 1733.9,857.8 1745.5,855.3 1751.2,855.0 1757.0,858.6 1766.9,861.9 1773.5,863.5 1780.1,866.0"/>
<line x1="1385.1" y1="205.3" x2="1385.1" y2="228.1" stroke="#141414" stroke-width="3.6"/>
<line x1="1445.4" y1="279.5" x2="1445.4" y2="320.3" stroke="#141414" stroke-width="3.6"/>
<line x1="1476.1" y1="244.9" x2="1476.1" y2="271.7" stroke="#141414" stroke-width="3.6"/>
<line x1="1494.9" y1="239.9" x2="1494.9" y2="251.9" stroke="#141414" stroke-width="3.6"/>
<line x1="1583.2" y1="384.4" x2="1583.2" y2="413.7" stroke="#141414" stroke-width="3.6"/>
<line x1="1689.1" y1="334.3" x2="1689.1" y2="384.0" stroke="#141414" stroke-width="3.6"/>
<line x1="1630.6" y1="352.4" x2="1630.6" y2="367.7" stroke="#141414" stroke-width="3.0"/>
<line x1="1385.1" y1="540.4" x2="1385.1" y2="559.8" stroke="#141414" stroke-width="3.6"/>
<line x1="1445.4" y1="609.6" x2="1445.4" y2="659.5" stroke="#141414" stroke-width="3.6"/>
<line x1="1476.1" y1="581.6" x2="1476.1" y2="606.8" stroke="#141414" stroke-width="3.6"/>
<line x1="1494.5" y1="570.0" x2="1494.5" y2="586.2" stroke="#141414" stroke-width="3.6"/>
<line x1="1583.2" y1="711.3" x2="1583.2" y2="739.8" stroke="#141414" stroke-width="3.6"/>
<line x1="1689.1" y1="664.5" x2="1689.1" y2="712.0" stroke="#141414" stroke-width="3.6"/>
<line x1="1630.3" y1="685.9" x2="1630.3" y2="701.3" stroke="#141414" stroke-width="3.0"/>
<line x1="1385.1" y1="900.4" x2="1385.1" y2="915.7" stroke="#141414" stroke-width="3.6"/>
<line x1="1445.4" y1="976.2" x2="1445.4" y2="1014.5" stroke="#141414" stroke-width="3.6"/>
<line x1="1476.1" y1="931.7" x2="1476.1" y2="954.4" stroke="#141414" stroke-width="3.6"/>
<line x1="1494.5" y1="905.3" x2="1494.5" y2="923.1" stroke="#141414" stroke-width="3.6"/>
<line x1="1583.2" y1="1056.0" x2="1583.2" y2="1084.5" stroke="#141414" stroke-width="3.6"/>
<line x1="1689.1" y1="1011.0" x2="1689.1" y2="1055.7" stroke="#141414" stroke-width="3.6"/>
<line x1="1630.6" y1="1029.1" x2="1630.6" y2="1043.6" stroke="#141414" stroke-width="3.0"/>
</g>
<g id="axes" stroke="#050505" fill="none">
<line x1="150.5" y1="40.9" x2="1784.0" y2="40.9" stroke-width="3.3"/>
<line x1="150.5" y1="1235.0" x2="1784.0" y2="1235.0" stroke-width="3.3"/>
<line x1="152.1" y1="40.9" x2="152.1" y2="1235.0" stroke-width="3.2"/>
<line x1="1782.4" y1="40.9" x2="1782.4" y2="1235.0" stroke-width="3.2"/>
<line x1="152.1" y1="1235.0" x2="152.1" y2="1261" stroke-width="2.9"/>
<line x1="273.0" y1="1235.0" x2="273.0" y2="1250.5" stroke-width="2.9"/>
<line x1="393.7" y1="1235.0" x2="393.7" y2="1261" stroke-width="2.9"/>
<line x1="515.5" y1="1235.0" x2="515.5" y2="1250.5" stroke-width="2.9"/>
<line x1="637.2" y1="1235.0" x2="637.2" y2="1261" stroke-width="2.9"/>
<line x1="760.3" y1="1235.0" x2="760.3" y2="1250.5" stroke-width="2.9"/>
<line x1="881.0" y1="1235.0" x2="881.0" y2="1261" stroke-width="2.9"/>
<line x1="1003.5" y1="1235.0" x2="1003.5" y2="1250.5" stroke-width="2.9"/>
<line x1="1124.7" y1="1235.0" x2="1124.7" y2="1261" stroke-width="2.9"/>
<line x1="1245.2" y1="1235.0" x2="1245.2" y2="1250.5" stroke-width="2.9"/>
<line x1="1368.2" y1="1235.0" x2="1368.2" y2="1261" stroke-width="2.9"/>
<line x1="1488.8" y1="1235.0" x2="1488.8" y2="1250.5" stroke-width="2.9"/>
<line x1="1611.8" y1="1235.0" x2="1611.8" y2="1261" stroke-width="2.9"/>
<line x1="1732.7" y1="1235.0" x2="1732.7" y2="1250.5" stroke-width="2.9"/>
</g>
<g id="xticklabels" class="ax" font-size="48" text-anchor="middle">
<text x="150.5" y="1315.0">4000</text>
<text x="393.7" y="1315.0">3500</text>
<text x="637.2" y="1315.0">3000</text>
<text x="881.0" y="1315.0">2500</text>
<text x="1124.7" y="1315.0">2000</text>
<text x="1367.6" y="1315.0">1500</text>
<text x="1611.2" y="1315.0">1000</text>
</g>
<text class="ax" font-size="59.7" x="692.5" y="1418" style="font-kerning:none">Wavenumbers (cm<tspan font-size="36.7" dy="-32">-1</tspan><tspan dy="32">)</tspan></text>
<text class="ax" font-size="59.65" text-anchor="middle" transform="translate(72.8,587.5) rotate(-90)">Absorption (%)</text>
<g id="annotations">
<text class="pc" font-size="47.53" transform="translate(214.93,192.60) scale(0.8200,1)" x="0.00 31.34 65.26 96.96 118.69">PCE 1</text>
<text class="pc" font-size="47.53" transform="translate(214.93,522.60) scale(0.8200,1)" x="0.00 31.34 65.26 96.96 117.60">PCE 2</text>
<text class="pc" font-size="47.53" transform="translate(214.93,896.40) scale(0.8200,1)" x="0.00 31.34 65.26 96.96 118.04">PCE 3</text>
<text class="an" font-size="38.95" transform="translate(1218.51,586.20) scale(1.0000,1)" x="0.00 21.84 42.92 65.91">1730</text>
<text class="an" font-size="38.95" transform="translate(661.17,1004.30) scale(1.0000,1)" x="0.00 22.20 44.25 66.65">2880</text>
<text class="an" font-size="38.95" transform="translate(1204.26,962.00) scale(1.0000,1)" x="0.00 21.65 41.89 65.51">1570</text>
<text class="an" font-size="38.95" transform="translate(1335.76,958.40) scale(1.0000,1)" x="0.00 20.73 43.43 65.78">1466</text>
<text class="an" font-size="38.95" transform="translate(1399.76,1058.50) scale(1.0000,1)" x="0.00 21.27 42.58 66.06">1340</text>
<text class="an" font-size="38.95" transform="translate(1520.71,1222.30) scale(1.0000,1)" x="0.00 22.00 43.46 65.51">1100</text>
</g>
<g id="serif-trim" fill="#ffffff"><rect x="314.22" y="188.05" width="7.96" height="5.55"/><rect x="325.37" y="188.05" width="7.65" height="5.55"/><rect x="1220.48" y="582.29" width="8.05" height="4.91"/><rect x="1231.52" y="582.29" width="7.75" height="4.91"/><rect x="1206.23" y="958.09" width="8.05" height="4.91"/><rect x="1217.27" y="958.09" width="7.75" height="4.91"/><rect x="1337.73" y="954.49" width="8.05" height="4.91"/><rect x="1348.77" y="954.49" width="7.75" height="4.91"/><rect x="1401.73" y="1054.59" width="8.05" height="4.91"/><rect x="1412.77" y="1054.59" width="7.75" height="4.91"/><rect x="1522.68" y="1218.39" width="8.05" height="4.91"/><rect x="1533.72" y="1218.39" width="7.75" height="4.91"/><rect x="1544.68" y="1218.39" width="8.05" height="4.91"/><rect x="1555.72" y="1218.39" width="7.75" height="4.91"/><rect x="1316.87" y="1310.41" width="9.41" height="5.59"/><rect x="1330.52" y="1310.41" width="9.04" height="5.59"/><rect x="1560.47" y="1310.41" width="9.41" height="5.59"/><rect x="1574.12" y="1310.41" width="9.04" height="5.59"/></g>
<g id="arrow">
<line x1="1259.3" y1="922.7" x2="1306.5" y2="893.0" stroke="#333333" stroke-width="1.6"/>
<polygon points="1322.9,879.4 1299.3,883.4 1310.5,900.7" fill="#0a0a0a"/>
</g>
</svg>
</body></html>
